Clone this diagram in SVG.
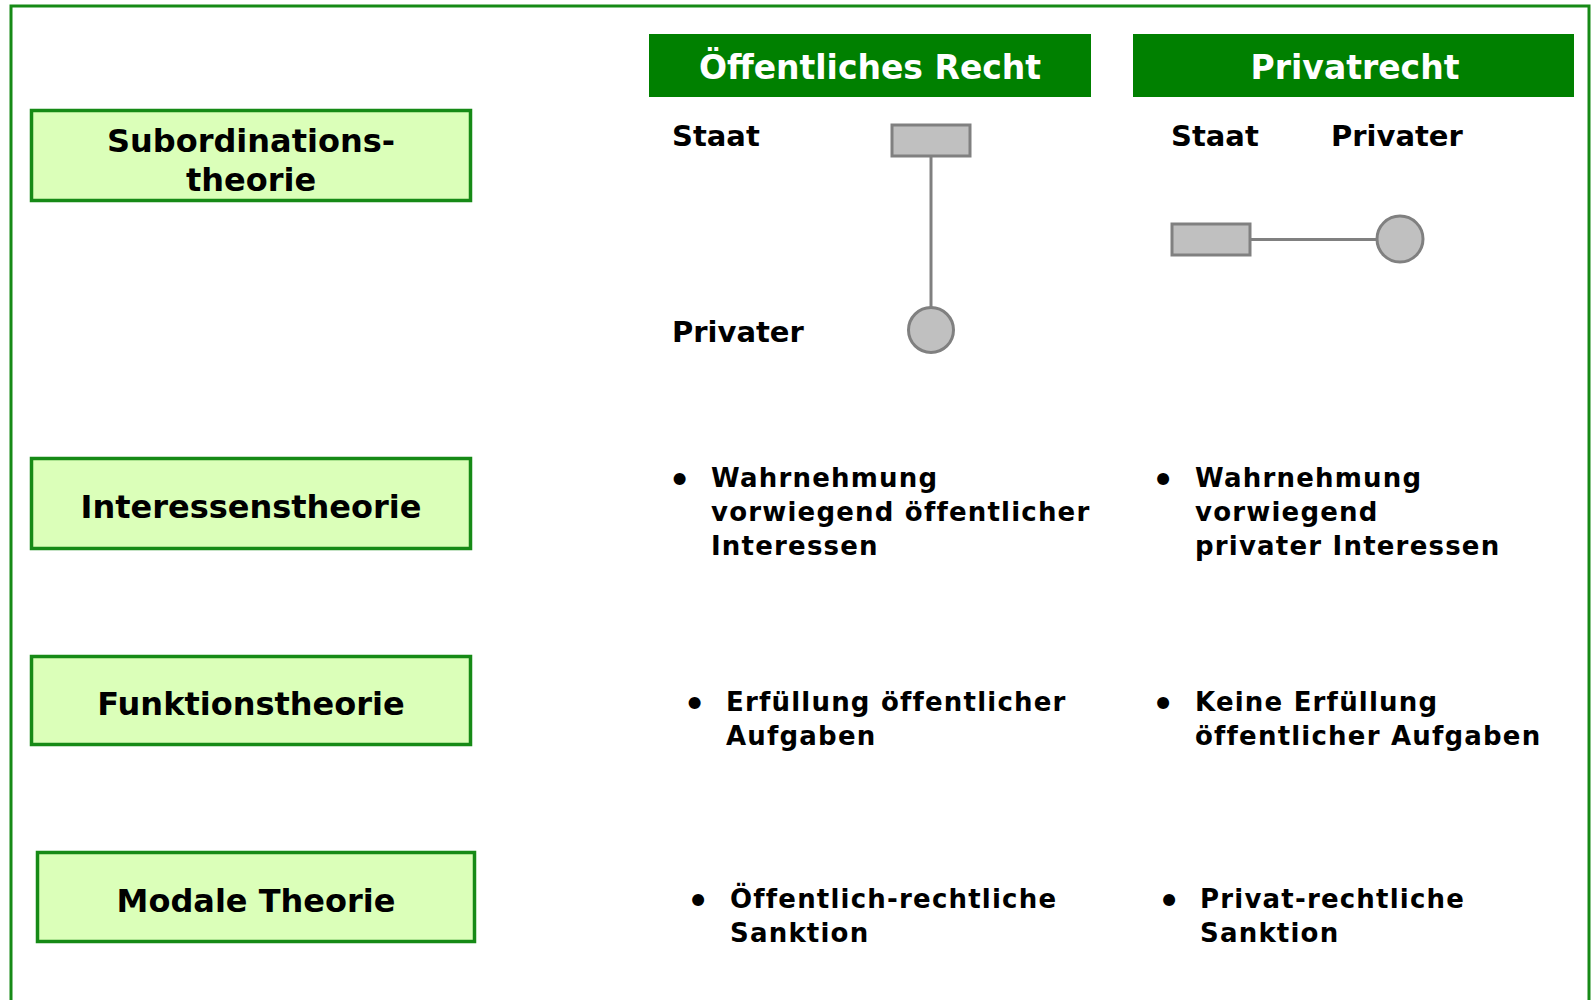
<svg xmlns="http://www.w3.org/2000/svg" width="1591" height="1000" viewBox="0 0 1591 1000">
<style>
.frame{fill:none;stroke:#168a16;stroke-width:3}
.lbl{fill:#dbffb9;stroke:#168a16;stroke-width:3.5}
.lt{font-family:"DejaVu Sans",Verdana,sans-serif;font-weight:bold;font-size:32px;fill:#000;text-anchor:middle}
.hdr{fill:#008000}
.ht{font-family:"DejaVu Sans",Verdana,sans-serif;font-weight:bold;font-size:33px;fill:#fff;text-anchor:middle}
.nm{font-family:"DejaVu Sans",Verdana,sans-serif;font-weight:bold;font-size:29px;fill:#000}
.bt{font-family:"DejaVu Sans",Verdana,sans-serif;font-weight:bold;font-size:26px;letter-spacing:1.2px;fill:#000}
.bl{font-family:"DejaVu Sans",Verdana,sans-serif;font-weight:bold;font-size:34px;fill:#000;text-anchor:middle}
.shape{fill:#c0c0c0;stroke:#808080;stroke-width:3}
.con{stroke:#808080;stroke-width:3;fill:none}
</style>
<path class="frame" d="M11,1000 V6 H1589 V1000"/>

<g id="hdr-oeffentlich">
<rect class="hdr" x="649" y="34" width="442" height="63"/>
<text class="ht" x="870" y="79">Öffentliches Recht</text>
</g>
<g id="hdr-privat">
<rect class="hdr" x="1133" y="34" width="441" height="63"/>
<text class="ht" x="1355" y="79">Privatrecht</text>
</g>

<g id="lbl-subordination">
<rect class="lbl" x="31.5" y="110.5" width="439" height="90"/>
<text class="lt" x="251" y="152">Subordinations-</text>
<text class="lt" x="251" y="191">theorie</text>
</g>
<g id="lbl-interessen">
<rect class="lbl" x="31.5" y="458.5" width="439" height="90"/>
<text class="lt" x="251" y="518">Interessenstheorie</text>
</g>
<g id="lbl-funktion">
<rect class="lbl" x="31.5" y="656.5" width="439" height="88"/>
<text class="lt" x="251" y="715">Funktionstheorie</text>
</g>
<g id="lbl-modal">
<rect class="lbl" x="37.5" y="852.5" width="437" height="89"/>
<text class="lt" x="256" y="912">Modale Theorie</text>
</g>

<g id="connectors">
<line class="con" x1="931" y1="157" x2="931" y2="307"/>
<line class="con" x1="1250" y1="239.5" x2="1377" y2="239.5"/>
</g>

<g id="oe-staat">
<text class="nm" x="672" y="146">Staat</text>
<rect class="shape" x="892" y="125" width="78" height="31"/>
</g>
<g id="oe-privater">
<text class="nm" x="672" y="342">Privater</text>
<circle class="shape" cx="931" cy="330" r="22.5"/>
</g>
<g id="pr-staat">
<text class="nm" x="1171" y="146">Staat</text>
<rect class="shape" x="1172" y="224" width="78" height="31"/>
</g>
<g id="pr-privater">
<text class="nm" x="1331" y="146">Privater</text>
<circle class="shape" cx="1400" cy="239" r="23"/>
</g>

<g id="oe-interessen">
<text class="bl" x="679.5" y="492">•</text>
<text class="bt" x="711" y="487">Wahrnehmung</text>
<text class="bt" x="711" y="521">vorwiegend öffentlicher</text>
<text class="bt" x="711" y="555">Interessen</text>
</g>
<g id="pr-interessen">
<text class="bl" x="1163" y="492">•</text>
<text class="bt" x="1195" y="487">Wahrnehmung</text>
<text class="bt" x="1195" y="521">vorwiegend</text>
<text class="bt" x="1195" y="555">privater Interessen</text>
</g>
<g id="oe-funktion">
<text class="bl" x="694.5" y="716">•</text>
<text class="bt" x="726" y="711">Erfüllung öffentlicher</text>
<text class="bt" x="726" y="745">Aufgaben</text>
</g>
<g id="pr-funktion">
<text class="bl" x="1163" y="716">•</text>
<text class="bt" x="1195" y="711">Keine Erfüllung</text>
<text class="bt" x="1195" y="745">öffentlicher Aufgaben</text>
</g>
<g id="oe-modal">
<text class="bl" x="698" y="913">•</text>
<text class="bt" x="730" y="908">Öffentlich-rechtliche</text>
<text class="bt" x="730" y="942">Sanktion</text>
</g>
<g id="pr-modal">
<text class="bl" x="1169" y="913">•</text>
<text class="bt" x="1200" y="908">Privat-rechtliche</text>
<text class="bt" x="1200" y="942">Sanktion</text>
</g>
</svg>
